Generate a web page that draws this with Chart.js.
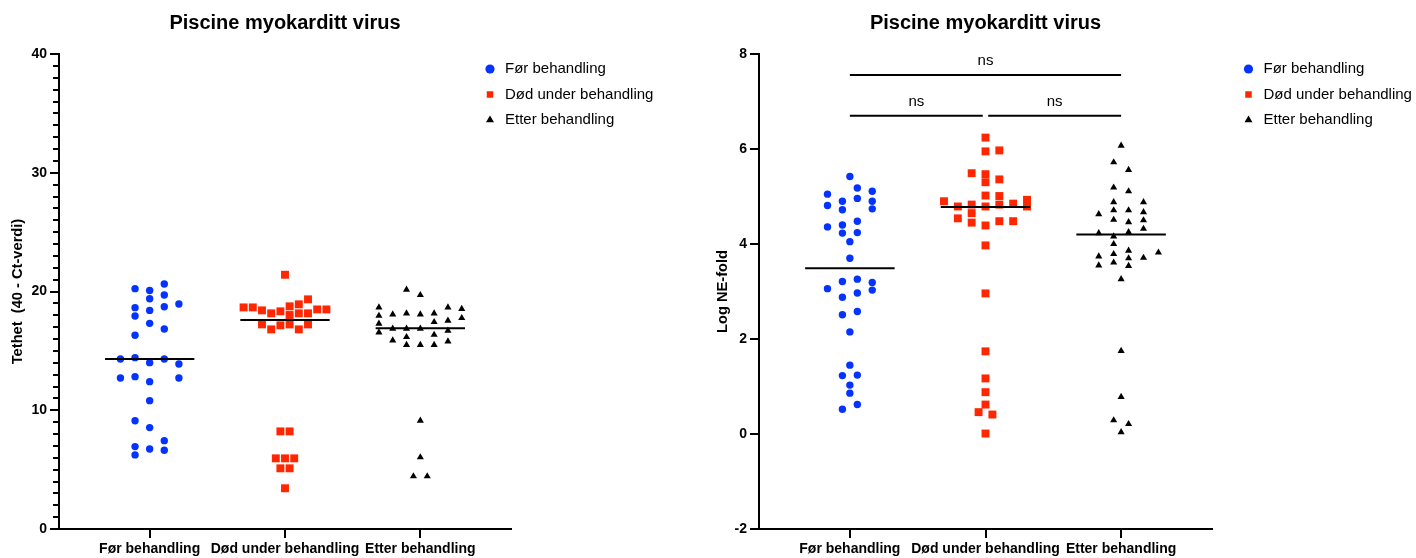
<!DOCTYPE html>
<html>
<head>
<meta charset="utf-8">
<script src="https://cdn.jsdelivr.net/npm/chart.js@4.4.1/dist/chart.umd.min.js"></script>
<style>
html,body{margin:0;padding:0;background:#fff;}
#wrap{position:relative;width:1416px;height:558px;}
canvas{position:absolute;top:0;}
#c1{left:0;}
#c2{left:700px;}
</style>
</head>
<body>
<div id="wrap">
<canvas id="c1" width="700" height="558"></canvas>
<canvas id="c2" width="716" height="558"></canvas>
</div>
<script>
// grupper / kategorier
const categories = ['Før behandling', 'Død under behandling', 'Etter behandling'];
const colors = ['#0433ff', '#ff2600', '#000000'];
const styles = ['circle', 'rect', 'triangle'];
const radii = [3.7, 5.6, 4.1];

// venstre figur: Tethet (40 - Ct-verdi)
const tetFor = [20.24, 20.09, 20.63, 19.39, 19.70, 18.64, 18.41, 18.72, 18.95, 17.94, 17.32, 16.84, 16.31, 14.32, 14.43, 14.01, 14.32, 13.90, 12.72, 12.83, 12.41, 12.72, 10.81, 9.12, 8.54, 7.44, 6.94, 6.74, 6.63, 6.24];
const tetForCol = [-1, 0, 1, 0, 1, -1, 0, 1, 2, -1, 0, 1, -1, -2, -1, 0, 1, 2, -2, -1, 0, 2, 0, -1, 0, 1, -1, 0, 1, -1];
const tetDod = [21.41, 18.66, 18.66, 18.41, 18.16, 18.33, 18.75, 18.92, 19.34, 18.49, 18.49, 18.02, 18.16, 18.16, 17.23, 16.81, 17.15, 17.23, 16.81, 17.23, 8.22, 8.22, 5.95, 5.95, 5.95, 5.11, 5.11, 3.43];
const tetDodCol = [0, -4.5, -3.5, -2.5, -1.5, -0.5, 0.5, 1.5, 2.5, 3.5, 4.5, 0.5, 1.5, 2.5, -2.5, -1.5, -0.5, 0.5, 1.5, 2.5, -0.5, 0.5, -1, 0, 1, -0.5, 0.5, 0];
const tetEtter = [20.15, 19.70, 18.66, 18.66, 18.53, 17.96, 18.07, 18.16, 18.07, 18.16, 17.77, 17.29, 17.43, 17.54, 16.56, 16.87, 16.87, 16.87, 16.36, 16.70, 16.17, 15.88, 15.50, 15.50, 15.50, 15.80, 9.12, 6.04, 4.44, 4.44];
const tetEtterCol = [-1, 0, -3, 2, 3, -3, -2, -1, 0, 1, 3, -3, 1, 2, -3, -2, -1, 0, 1, 2, -1, -2, -1, 0, 1, 2, 0, 0, -0.5, 0.5];
const tetMedian = [14.32, 17.6, 16.9];
const tetColStep = [0.108, 0.068, 0.102];
const tetTicks = [0, 10, 20, 30, 40];

// høyre figur: Log NE-fold
const neFor = [5.42, 5.18, 5.05, 5.11, 4.81, 4.90, 4.96, 4.90, 4.72, 4.74, 4.36, 4.40, 4.48, 4.23, 4.24, 4.05, 3.70, 3.21, 3.26, 3.19, 3.06, 3.03, 2.88, 2.97, 2.51, 2.58, 2.15, 1.45, 1.23, 1.24, 1.03, 0.86, 0.52, 0.62];
const neForCol = [0, 1, -3, 3, -3, -1, 1, 3, -1, 3, -3, -1, 1, -1, 1, 0, 0, -1, 1, 3, -3, 3, -1, 1, -1, 1, 0, 0, -1, 1, 0, 0, -1, 1];
const neDod = [6.24, 5.95, 5.97, 5.49, 5.47, 5.30, 5.36, 5.02, 5.01, 4.90, 4.93, 4.83, 4.85, 4.79, 4.83, 4.79, 4.79, 4.65, 4.54, 4.45, 4.48, 4.48, 4.39, 3.97, 2.96, 1.74, 1.17, 0.88, 0.62, 0.46, 0.41, 0.01];
const neDodCol = [0, 0, 1, -1, 0, 0, 1, 0, 1, -3, 3, 1, 2, -2, -1, 0, 3, -1, -2, -1, 1, 2, 0, 0, 0, 0, 0, 0, 0, -0.5, 0.5, 0];
const neEtter = [6.07, 5.72, 5.56, 5.19, 5.11, 4.88, 4.88, 4.71, 4.71, 4.67, 4.63, 4.51, 4.46, 4.50, 4.32, 4.25, 4.23, 4.16, 4.00, 3.86, 3.74, 3.79, 3.70, 3.71, 3.82, 3.55, 3.61, 3.54, 3.26, 1.75, 0.78, 0.29, 0.21, 0.04];
const neEtterCol = [0, -1, 1, -1, 1, 3, -1, -1, 1, 3, -3, -1, 1, 3, 3, 1, -3, -1, -1, 1, -3, -1, 1, 3, 5, -3, -1, 1, 0, 0, 0, -1, 1, 0];
const neMedian = [3.49, 4.78, 4.2];
const neColStep = [0.055, 0.102, 0.055];
const neTicks = [-2, 0, 2, 4, 6, 8];
// signifikans-streker: fra, til, y
const nsBars = [[0, 2, 7.56], [0, 0.98, 6.7], [1.02, 2, 6.7]];
const nsText = ['ns', 'ns', 'ns'];

const FONT = '"Liberation Sans", Arial, Helvetica, sans-serif';
Chart.defaults.font.family = FONT;
Chart.defaults.color = '#000';

function groupPoints(vals, cols, gi, step) {
    return vals.map((v, k) => ({x: gi + cols[k] * step, y: v}));
}

function buildDatasets(groups, cols, medians, steps, bars) {
    const ds = groups.map((vals, i) => ({
        label: categories[i],
        data: groupPoints(vals, cols[i], i, steps[i]),
        pointStyle: styles[i],
        pointRadius: radii[i],
        pointHoverRadius: radii[i],
        backgroundColor: colors[i],
        borderColor: colors[i],
        borderWidth: 0,
        order: 2
    }));
    medians.forEach((m, i) => {
        ds.push({
            label: 'median',
            data: [{x: i - 0.33, y: m}, {x: i + 0.33, y: m}],
            showLine: true, pointRadius: 0, borderColor: '#000', borderWidth: 2, order: 1
        });
    });
    (bars || []).forEach(b => {
        ds.push({
            label: 'ns',
            data: [{x: b[0], y: b[2]}, {x: b[1], y: b[2]}],
            showLine: true, pointRadius: 0, borderColor: '#000', borderWidth: 2, order: 1
        });
    });
    return ds;
}

// flytter legenden inn i plottet
const legendPlace = {
    id: 'legendPlace',
    afterLayout(chart, args, opts) {
        const lg = chart.legend;
        if (!lg) return;
        lg.left = opts.x; lg.top = opts.y;
        lg.right = opts.x + lg.width;
        lg.height = 200; lg.bottom = opts.y + 200;
    }
};

// små tick-merker og ns-tekst
const extras = {
    id: 'extras',
    afterDraw(chart, args, opts) {
        const {ctx, chartArea, scales: {x, y}} = chart;
        ctx.save();
        if (opts.minorStep) {
            ctx.strokeStyle = '#000';
            ctx.lineWidth = 2;
            ctx.beginPath();
            for (let v = y.min + opts.minorStep; v < y.max; v += opts.minorStep) {
                if (v % 10 === 0) continue;
                const py = Math.round(y.getPixelForValue(v));
                ctx.moveTo(chartArea.left - 6, py);
                ctx.lineTo(chartArea.left, py);
            }
            ctx.stroke();
        }
        if (opts.bars) {
            ctx.fillStyle = '#000';
            ctx.font = '15px ' + FONT;
            ctx.textAlign = 'center';
            ctx.textBaseline = 'middle';
            opts.bars.forEach((b, i) => {
                ctx.fillText(opts.text[i], x.getPixelForValue((b[0] + b[1]) / 2), y.getPixelForValue(b[2]) - 14);
            });
        }
        ctx.restore();
    }
};

function makeChart(id, o) {
    return new Chart(document.getElementById(id), {
        type: 'scatter',
        data: {datasets: o.datasets},
        options: {
            responsive: false,
            animation: false,
            devicePixelRatio: 1,
            layout: {padding: {left: 0, right: o.padRight, top: 0, bottom: 0}},
            plugins: {
                title: {
                    display: true, text: 'Piscine myokarditt virus', fullSize: false,
                    font: {size: 20, weight: 'bold'}, color: '#000',
                    padding: {top: 11, bottom: 19}
                },
                legend: {
                    position: 'chartArea', align: 'start',
                    labels: {
                        usePointStyle: true, boxHeight: 6.5, padding: 10.5,
                        font: {size: 15}, color: '#000',
                        filter: item => item.datasetIndex < 3
                    }
                },
                tooltip: {enabled: false},
                legendPlace: o.legendPos,
                extras: o.extras
            },
            scales: {
                x: {
                    type: 'linear', min: -0.67, max: 2.67,
                    afterBuildTicks: s => { s.ticks = categories.map((c, i) => ({value: i})); },
                    afterFit: s => { s.height = 29; },
                    ticks: {
                        callback: (v, i) => categories[i],
                        font: {size: 14, weight: 'bold'}, color: '#000',
                        padding: 3, maxRotation: 0, autoSkip: false
                    },
                    grid: {drawOnChartArea: false, tickLength: 9, lineWidth: 2, color: '#000'},
                    border: {width: 2, color: '#000'}
                },
                y: {
                    min: o.ticks[0], max: o.ticks[o.ticks.length - 1],
                    afterBuildTicks: s => { s.ticks = o.ticks.map(v => ({value: v})); },
                    afterFit: s => { s.width = 59; },
                    ticks: {font: {size: 14, weight: 'bold'}, color: '#000', padding: 3},
                    grid: {drawOnChartArea: false, tickLength: 9, lineWidth: 2, color: '#000'},
                    border: {width: 2, color: '#000'},
                    title: {
                        display: true, text: o.yTitle,
                        font: {size: 14.67, weight: 'bold'}, color: '#000',
                        padding: {top: o.titlePad, bottom: 0}
                    }
                }
            }
        },
        plugins: [legendPlace, extras]
    });
}

makeChart('c1', {
    datasets: buildDatasets([tetFor, tetDod, tetEtter], [tetForCol, tetDodCol, tetEtterCol], tetMedian, tetColStep, null),
    ticks: tetTicks,
    yTitle: 'Tethet  (40 - Ct-verdi)',
    titlePad: 9.5,
    padRight: 189,
    legendPos: {x: 472, y: 51},
    extras: {minorStep: 1}
});

makeChart('c2', {
    datasets: buildDatasets([neFor, neDod, neEtter], [neForCol, neDodCol, neEtterCol], neMedian, neColStep, nsBars),
    ticks: neTicks,
    yTitle: 'Log NE-fold',
    titlePad: 13.9,
    padRight: 204,
    legendPos: {x: 530.5, y: 51},
    extras: {bars: nsBars, text: nsText}
});
</script>
</body>
</html>
